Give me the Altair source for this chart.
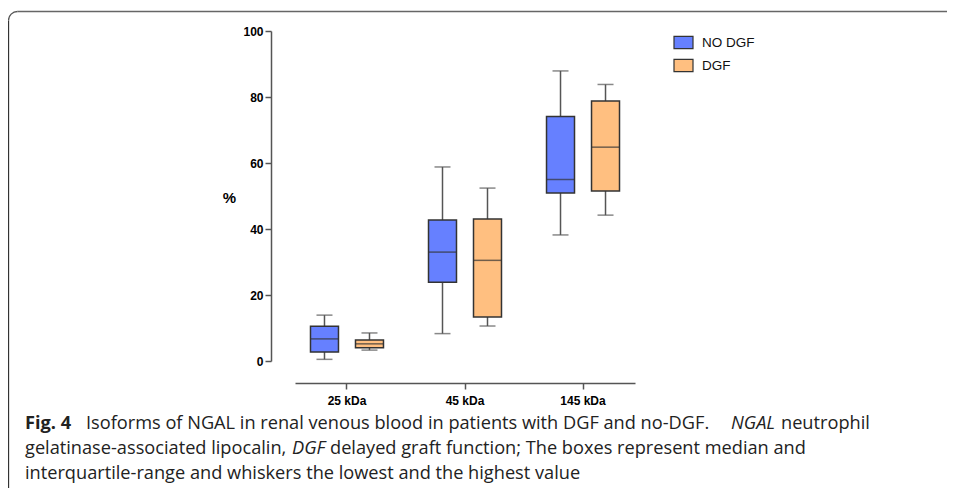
import altair as alt
import pandas as pd

isoforms = ["25 kDa", "45 kDa", "145 kDa"]
groups = ["NO DGF", "DGF"]
colors = ["#6680FF", "#FFBF80"]

# per group, per isoform
low = {"NO DGF": [0.5, 8.3, 38.2], "DGF": [3.3, 10.6, 44.2]}
q1 = {"NO DGF": [2.7, 23.9, 50.9], "DGF": [4.0, 13.3, 51.5]}
median = {"NO DGF": [6.7, 33.0, 55.0], "DGF": [5.2, 30.5, 64.8]}
q3 = {"NO DGF": [10.5, 42.7, 74.1], "DGF": [6.4, 43.0, 78.8]}
high = {"NO DGF": [13.9, 58.8, 87.9], "DGF": [8.5, 52.4, 83.8]}

y_ticks = [0, 20, 40, 60, 80, 100]

caption_lines = [
    [("Fig. 4", "bold", "normal"),
     ("Isoforms of NGAL in renal venous blood in patients with DGF and no-DGF.", "normal", "normal"),
     ("NGAL", "normal", "italic"),
     ("neutrophil", "normal", "normal")],
    [("gelatinase-associated lipocalin,", "normal", "normal"),
     ("DGF", "normal", "italic"),
     ("delayed graft function; The boxes represent median and", "normal", "normal")],
    [("interquartile-range and whiskers the lowest and the highest value", "normal", "normal")],
]
caption_x = [[25, 86, 731, 781], [25, 292, 330], [25]]

rows = []
for g in groups:
    for i, iso in enumerate(isoforms):
        rows.append(dict(iso=iso, group=g, low=low[g][i], q1=q1[g][i],
                         median=median[g][i], q3=q3[g][i], high=high[g][i]))
df = pd.DataFrame(rows)

W, H = 340, 330
PL, PT = 287, 23  # padding left/top (page offset 8 removed)
TOTW, TOTH = 939, 480
OX, OY = 8 + PL, 8 + PT  # page position of plot origin

xenc = alt.X("iso:N", sort=isoforms,
             scale=alt.Scale(paddingInner=0.2, paddingOuter=0.0405),
             axis=alt.Axis(title=None, offset=22, labelAngle=0,
                           labelFont="Liberation Sans", labelFontWeight="bold",
                           labelFontSize=12, labelColor="#000", labelPadding=6,
                           domainColor="#555", domainWidth=1.5, tickColor="#555",
                           tickWidth=1.5, tickSize=6))
xoff = alt.XOffset("group:N", sort=groups,
                   scale=alt.Scale(paddingInner=0.378, paddingOuter=0.238))
yscale = alt.Scale(domain=[0, 100], nice=False)
yaxis = alt.Axis(values=y_ticks, title="%", titleAngle=0, titleX=-42, titleY=166,
                 titleAlign="center", titleBaseline="middle",
                 titleFont="Liberation Sans", titleFontSize=15, titleFontWeight="bold",
                 titleColor="#000", offset=24, grid=False,
                 labelFont="Liberation Sans", labelFontWeight="bold",
                 labelFontSize=12, labelColor="#000", labelPadding=2,
                 domainColor="#555", domainWidth=1.5, tickColor="#555",
                 tickWidth=1.5, tickSize=6)

base = alt.Chart(df).encode(x=xenc, xOffset=xoff)

whisker = base.mark_rule(color="#555", strokeWidth=1.5).encode(
    y=alt.Y("low:Q", scale=yscale, axis=yaxis), y2="high:Q")
box = base.mark_bar(stroke="#333", strokeWidth=1.5).encode(
    y=alt.Y("q1:Q", scale=yscale), y2="q3:Q",
    color=alt.Color("group:N", sort=groups,
                    scale=alt.Scale(domain=groups, range=colors),
                    legend=alt.Legend(title=None, orient="none", legendX=378, legendY=1,
                                      symbolType="M-1,-0.65H1V0.65H-1Z", symbolSize=361,
                                      symbolStrokeColor="#333", symbolStrokeWidth=1.2,
                                      labelFont="Liberation Sans", labelFontSize=13.5,
                                      labelColor="#111", rowPadding=3, labelOffset=8)))
med = base.mark_tick(color="#333", size=28, thickness=1.5).encode(y=alt.Y("median:Q", scale=yscale))
cap_lo = base.mark_tick(color="#555", size=16, thickness=1.5).encode(y=alt.Y("low:Q", scale=yscale))
cap_hi = base.mark_tick(color="#555", size=16, thickness=1.5).encode(y=alt.Y("high:Q", scale=yscale))

# caption segments
cap_rows = []
for li, line in enumerate(caption_lines):
    for si, (txt, wt, st) in enumerate(line):
        cap_rows.append(dict(text=txt, weight=wt, style=st, line=li,
                             px=caption_x[li][si] - OX, py=424 + 25 * li - OY))
cap_df = pd.DataFrame(cap_rows)

caption_layers = []
for wt in ["bold", "normal"]:
    for st in ["normal", "italic"]:
        sub = cap_df[(cap_df.weight == wt) & (cap_df["style"] == st)]
        if len(sub) == 0:
            continue
        caption_layers.append(
            alt.Chart(sub).mark_text(align="left", baseline="middle", font="Open Sans",
                                     fontSize=18.2, fontWeight=wt, fontStyle=st,
                                     color="#222", clip=False)
            .encode(x=alt.X("px:Q", scale=None), y=alt.Y("py:Q", scale=None), text="text:N"))

# figure frame: top and left edges with a rounded top-left corner
R = 9
fx, fy = 8.5, 11.5
one = pd.DataFrame({"k": [0]})
frame_top = alt.Chart(one).mark_rule(color="#666", strokeWidth=1.3, clip=False).encode(
    x=alt.value(fx + R - OX), x2=alt.value(1100), y=alt.value(fy - OY))
frame_left = alt.Chart(one).mark_rule(color="#333", strokeWidth=1.3, clip=False).encode(
    x=alt.value(fx - OX), y=alt.value(fy + R - OY), y2=alt.value(700))
frame_corner = alt.Chart(one).mark_arc(
    radius=R, radius2=R, theta=4.712389, theta2=6.2831853, fill=None,
    stroke="#555", strokeWidth=1.3, clip=False).encode(
    x=alt.value(fx + R - OX), y=alt.value(fy + R - OY))

chart = alt.layer(frame_top, frame_left, frame_corner, whisker, box, med, cap_lo, cap_hi,
                  *caption_layers).properties(
    width=W, height=H,
    autosize=alt.AutoSizeParams(type="none"),
    padding={"left": PL, "top": PT, "right": TOTW - PL - W, "bottom": TOTH - PT - H},
).configure_view(stroke=None).configure_legend(padding=0)

chart.save("out.html", embed_options={"renderer": "svg", "actions": False})
